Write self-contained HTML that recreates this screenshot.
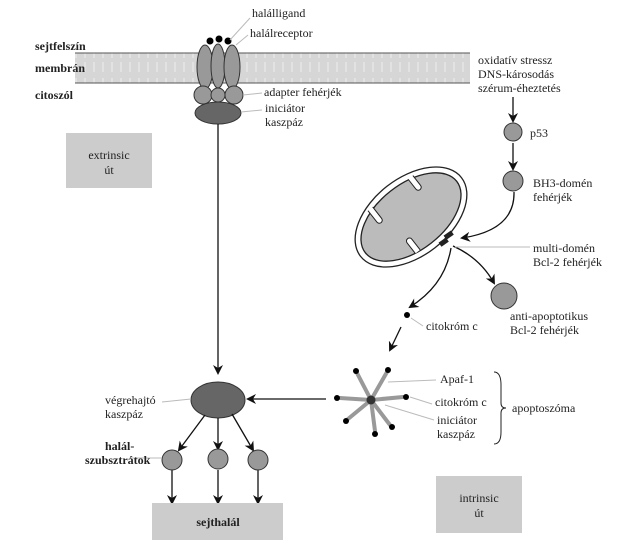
<!DOCTYPE html>
<html><head><meta charset="utf-8"><style>
body{margin:0;background:#fff}
svg{display:block;font-family:"Liberation Serif",serif;font-size:12px;fill:#222}
</style></head><body>
<svg width="618" height="558" viewBox="0 0 618 558" xmlns="http://www.w3.org/2000/svg">
<defs>
<marker id="a" markerWidth="10" markerHeight="10" refX="8" refY="5" orient="auto" markerUnits="userSpaceOnUse"><path d="M0,0 L10,5 L0,10 L3,5 z" fill="#111"/></marker>
<pattern id="m" width="9" height="30" patternUnits="userSpaceOnUse"><rect width="9" height="30" fill="#d6d6d6"/><line x1="4" y1="2" x2="4" y2="12" stroke="#eee"/><line x1="4" y1="18" x2="4" y2="28" stroke="#eee"/></pattern>
</defs>
<rect x="75" y="53" width="395" height="30" fill="url(#m)"/>
<line x1="75" y1="53" x2="470" y2="53" stroke="#555"/>
<line x1="75" y1="83" x2="470" y2="83" stroke="#555"/>
<g font-weight="bold" font-size="12">
<text x="35" y="50">sejtfelszín</text>
<text x="35" y="72">membrán</text>
<text x="35" y="99">citoszól</text>
</g>
<g stroke="#333" fill="#999">
<ellipse cx="205" cy="67" rx="8" ry="22"/>
<ellipse cx="218" cy="66" rx="7" ry="22"/>
<ellipse cx="232" cy="67" rx="8" ry="22"/>
<circle cx="203" cy="95" r="9"/>
<circle cx="218" cy="95" r="7"/>
<circle cx="234" cy="95" r="9"/>
<ellipse cx="218" cy="113" rx="23" ry="11" fill="#666"/>
</g>
<g fill="#000"><circle cx="210" cy="41" r="3.5"/><circle cx="219" cy="39" r="3.5"/><circle cx="228" cy="41" r="3.5"/></g>
<g stroke="#bbb"><line x1="230" y1="40" x2="250" y2="18"/><line x1="236" y1="45" x2="248" y2="35"/><line x1="243" y1="95" x2="262" y2="93"/><line x1="241" y1="112" x2="262" y2="110"/></g>
<text x="252" y="17">halálligand</text>
<text x="250" y="37">halálreceptor</text>
<text x="264" y="96">adapter fehérjék</text>
<text x="265" y="112">iniciátor</text>
<text x="265" y="126">kaszpáz</text>
<rect x="66" y="133" width="86" height="55" fill="#ccc"/>
<text x="109" y="159" text-anchor="middle">extrinsic</text>
<text x="109" y="174" text-anchor="middle">út</text>
<line x1="218" y1="124" x2="218" y2="373" stroke="#111" stroke-width="1.3" marker-end="url(#a)"/>
<ellipse cx="218" cy="400" rx="27" ry="18" fill="#666" stroke="#333"/>
<line x1="162" y1="402" x2="191" y2="399" stroke="#bbb"/>
<text x="105" y="404">végrehajtó</text>
<text x="105" y="418">kaszpáz</text>
<g stroke="#111" stroke-width="1.3" fill="none" marker-end="url(#a)">
<line x1="205" y1="415" x2="179" y2="450"/>
<line x1="218" y1="418" x2="218" y2="449"/>
<line x1="232" y1="414" x2="253" y2="450"/>
<line x1="172" y1="470" x2="172" y2="503"/>
<line x1="218" y1="470" x2="218" y2="503"/>
<line x1="258" y1="470" x2="258" y2="503"/>
<line x1="326" y1="399" x2="248" y2="399"/>
</g>
<g fill="#999" stroke="#333"><circle cx="172" cy="460" r="10"/><circle cx="218" cy="459" r="10"/><circle cx="258" cy="460" r="10"/></g>
<line x1="130" y1="458" x2="162" y2="458" stroke="#bbb"/>
<g font-weight="bold"><text x="105" y="450">halál-</text><text x="85" y="464">szubsztrátok</text></g>
<rect x="152" y="503" width="131" height="37" fill="#ccc"/>
<text x="218" y="526" text-anchor="middle" font-weight="bold">sejthalál</text>
<g stroke="#999" stroke-width="4" stroke-linecap="round">
<line x1="371" y1="400" x2="357" y2="373"/><line x1="371" y1="400" x2="387" y2="372"/>
<line x1="371" y1="400" x2="340" y2="398"/><line x1="371" y1="400" x2="403" y2="397"/>
<line x1="371" y1="400" x2="348" y2="419"/><line x1="371" y1="400" x2="375" y2="431"/>
<line x1="371" y1="400" x2="390" y2="425"/>
</g>
<g fill="#000"><circle cx="356" cy="371" r="3"/><circle cx="388" cy="370" r="3"/><circle cx="337" cy="398" r="3"/><circle cx="406" cy="397" r="3"/><circle cx="346" cy="421" r="3"/><circle cx="375" cy="434" r="3"/><circle cx="392" cy="427" r="3"/><circle cx="371" cy="400" r="4.5" fill="#333"/></g>
<g stroke="#bbb"><line x1="388" y1="382" x2="436" y2="380"/><line x1="410" y1="397" x2="432" y2="404"/><line x1="385" y1="405" x2="434" y2="420"/></g>
<text x="440" y="383">Apaf-1</text>
<text x="435" y="406">citokróm c</text>
<text x="437" y="424">iniciátor</text>
<text x="437" y="438">kaszpáz</text>
<path d="M494,372 Q501,372 501,385 L501,403 Q501,408 506,408 Q501,408 501,413 L501,432 Q501,444 494,444" fill="none" stroke="#222"/>
<text x="512" y="412">apoptoszóma</text>
<rect x="436" y="476" width="86" height="57" fill="#ccc"/>
<text x="479" y="502" text-anchor="middle">intrinsic</text>
<text x="479" y="517" text-anchor="middle">út</text>
<text x="478" y="64">oxidatív stressz</text>
<text x="478" y="78">DNS-károsodás</text>
<text x="478" y="92">szérum-éheztetés</text>
<g stroke="#111" stroke-width="1.3" fill="none" marker-end="url(#a)">
<line x1="513" y1="97" x2="513" y2="121"/>
<line x1="513" y1="143" x2="513" y2="169"/>
<path d="M514,192 Q515,230 462,238"/>
<path d="M453,246 Q480,258 494,283"/>
<path d="M451,248 Q445,285 410,307"/>
<line x1="401" y1="327" x2="390" y2="350"/>
</g>
<circle cx="513" cy="132" r="9" fill="#999" stroke="#333"/>
<text x="530" y="137">p53</text>
<circle cx="513" cy="181" r="10" fill="#999" stroke="#333"/>
<text x="533" y="187">BH3-domén</text>
<text x="533" y="201">fehérjék</text>
<g transform="rotate(-38 411 217)">
<ellipse cx="411" cy="217" rx="64" ry="39" fill="#fff" stroke="#222" stroke-width="1.3"/>
<ellipse cx="411" cy="217" rx="58" ry="33" fill="#bbb" stroke="#222" stroke-width="1.3"/>
<g fill="#fff" stroke="#222" stroke-width="1">
<path d="M381,185.5 L381,200 A3,3 0 0 0 387,200 L387,185.5"/>
<path d="M432,185.5 L432,198 A3,3 0 0 0 438,198 L438,185.5"/>
<path d="M392,248.5 L392,235 A3,3 0 0 1 398,235 L398,248.5"/>
</g>
</g>
<rect x="444" y="233" width="9" height="5" fill="#222" transform="rotate(-35 448 235)"/>
<rect x="439" y="240" width="9" height="5" fill="#222" transform="rotate(-35 443 242)"/>
<line x1="455" y1="247" x2="530" y2="247" stroke="#bbb"/>
<text x="533" y="252">multi-domén</text>
<text x="533" y="266">Bcl-2 fehérjék</text>
<circle cx="504" cy="296" r="13" fill="#999" stroke="#333"/>
<text x="510" y="320">anti-apoptotikus</text>
<text x="510" y="334">Bcl-2 fehérjék</text>
<circle cx="407" cy="315" r="3" fill="#000"/>
<line x1="411" y1="318" x2="423" y2="326" stroke="#bbb"/>
<text x="426" y="330">citokróm c</text>
</svg>
</body></html>
